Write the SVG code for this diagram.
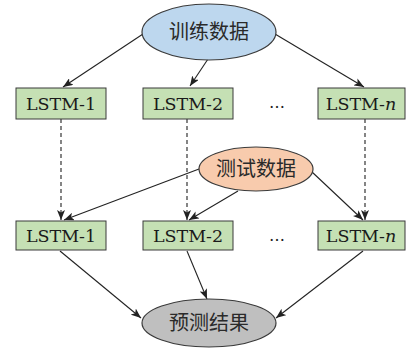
<svg xmlns="http://www.w3.org/2000/svg" width="407" height="349" viewBox="0 0 407 349">
  <style>
    .box { fill: #c5e0b4; stroke: #3a3a3a; stroke-width: 1; }
    .lbl { font-family: "DejaVu Serif", "Liberation Serif", serif; font-size: 17.5px; fill: #1a1a1a; text-anchor: middle; }
    .cjk { font-family: "Noto Sans CJK SC", sans-serif; font-size: 20px; fill: #2a2a2a; text-anchor: middle; }
    .ell { stroke: #3a3a3a; stroke-width: 1.2; }
    .edge { stroke: #222; stroke-width: 1.1; fill: none; marker-end: url(#arr); }
    .dash { stroke-dasharray: 4 3; }
    .dots { font-family: "DejaVu Serif", serif; font-size: 16px; fill: #1a1a1a; text-anchor: middle; }
  </style>
  <defs>
    <marker id="arr" viewBox="0 0 10 8" refX="10" refY="4" markerWidth="10" markerHeight="8" markerUnits="userSpaceOnUse" orient="auto">
      <path d="M0,0 L10,4 L0,8 L2.5,4 Z" fill="#222"/>
    </marker>
  </defs>

  <!-- connectors -->
  <g id="edges">
    <line class="edge" x1="143" y1="34" x2="63" y2="87"/>
    <line class="edge" x1="208" y1="59" x2="190" y2="86"/>
    <line class="edge" x1="275" y1="34" x2="364" y2="87"/>

    <line class="edge dash" x1="61" y1="119" x2="61" y2="220"/>
    <line class="edge dash" x1="187" y1="119" x2="187" y2="220"/>
    <line class="edge dash" x1="365" y1="119" x2="365" y2="220"/>

    <line class="edge" x1="199" y1="169" x2="64" y2="220"/>
    <line class="edge" x1="238" y1="191" x2="189" y2="220"/>
    <line class="edge" x1="311" y1="171" x2="363" y2="220"/>

    <line class="edge" x1="60" y1="251" x2="141" y2="318"/>
    <line class="edge" x1="187" y1="251" x2="207" y2="299"/>
    <line class="edge" x1="363" y1="251" x2="276" y2="318"/>
  </g>

  <g id="train">
    <ellipse class="ell" cx="209" cy="32" rx="67" ry="28" fill="#bdd7ee"/>
    <text class="cjk" x="209" y="39">训练数据</text>
  </g>

  <g id="lstm1-a">
    <rect class="box" x="16" y="88" width="90" height="31"/>
    <text class="lbl" x="61" y="110">LSTM-1</text>
  </g>
  <g id="lstm2-a">
    <rect class="box" x="143" y="88" width="90" height="31"/>
    <text class="lbl" x="188" y="110">LSTM-2</text>
  </g>
  <text class="dots" x="277" y="108">…</text>
  <g id="lstmn-a">
    <rect class="box" x="318" y="88" width="87" height="31"/>
    <text class="lbl" x="361" y="110">LSTM-<tspan font-style="italic">n</tspan></text>
  </g>

  <g id="test">
    <ellipse class="ell" cx="256" cy="169" rx="57" ry="22" fill="#f8cbad"/>
    <text class="cjk" x="256" y="176">测试数据</text>
  </g>

  <g id="lstm1-b">
    <rect class="box" x="16" y="221" width="90" height="29"/>
    <text class="lbl" x="61" y="242">LSTM-1</text>
  </g>
  <g id="lstm2-b">
    <rect class="box" x="143" y="221" width="90" height="29"/>
    <text class="lbl" x="188" y="242">LSTM-2</text>
  </g>
  <text class="dots" x="277" y="241">…</text>
  <g id="lstmn-b">
    <rect class="box" x="318" y="221" width="87" height="29"/>
    <text class="lbl" x="361" y="242">LSTM-<tspan font-style="italic">n</tspan></text>
  </g>

  <g id="result">
    <ellipse class="ell" cx="209" cy="323" rx="67" ry="24" fill="#bfbfbf"/>
    <text class="cjk" x="209" y="330">预测结果</text>
  </g>
</svg>
